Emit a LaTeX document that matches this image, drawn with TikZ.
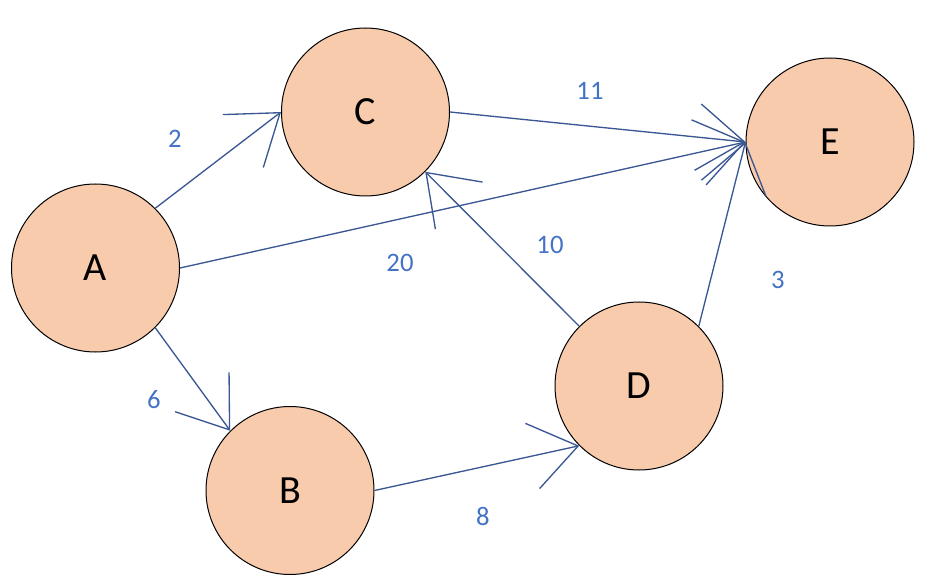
\documentclass[tikz,border=0pt]{standalone}
\usepackage{fontspec}
\setmainfont{Carlito}
\usetikzlibrary{arrows.meta}
\definecolor{peach}{HTML}{F8CBAD}
\definecolor{edgeblue}{HTML}{3A5794}
\definecolor{weightblue}{HTML}{4472C4}

\begin{document}
\begin{tikzpicture}[
  x=0.75pt,  y=-0.75pt,  vertex/.style={circle,draw,line width=0.75pt,fill=peach,minimum size=126pt,inner sep=0pt,font=\fontsize{30}{35}\selectfont},  edge/.style={draw=edgeblue,line width=1pt,-{Straight Barb[length=35pt,width=50pt]}},  weight/.style={text=weightblue,inner sep=0pt,font=\fontsize{20}{24}\selectfont}
]
  \useasboundingbox (0,0) rectangle (947,588);
  \node[vertex] (a) at (95.5,268) {A};
  \node[vertex] (b) at (290,490.5) {B};
  \node[vertex] (c) at (365.5,112) {C};
  \node[vertex] (d) at (639,386) {D};
  \node[vertex] (e) at (830,142) {E};
  \draw[edge] (a.north east) -- (c.west);
  \draw[edge] (a.east) -- (e.west);
  \draw[edge] (a.south east) -- (b.north west);
  \draw[edge] (c.east) -- (e.west);
  \draw[edge] (b.east) -- (d.south west);
  \draw[edge] (d.north west) -- (c.south east);
  \draw[edge] (d.north east) -- (e.west);
  \node[weight] (w2) at (175,139) {2};
  \node[weight] (w11) at (590,91) {11};
  \node[weight] (w20) at (400,263) {20};
  \node[weight] (w10) at (550,245) {10};
  \node[weight] (w3) at (778,280) {3};
  \node[weight] (w6) at (154,400) {6};
  \node[weight] (w8) at (483,516) {8};
\end{tikzpicture}
\end{document}
